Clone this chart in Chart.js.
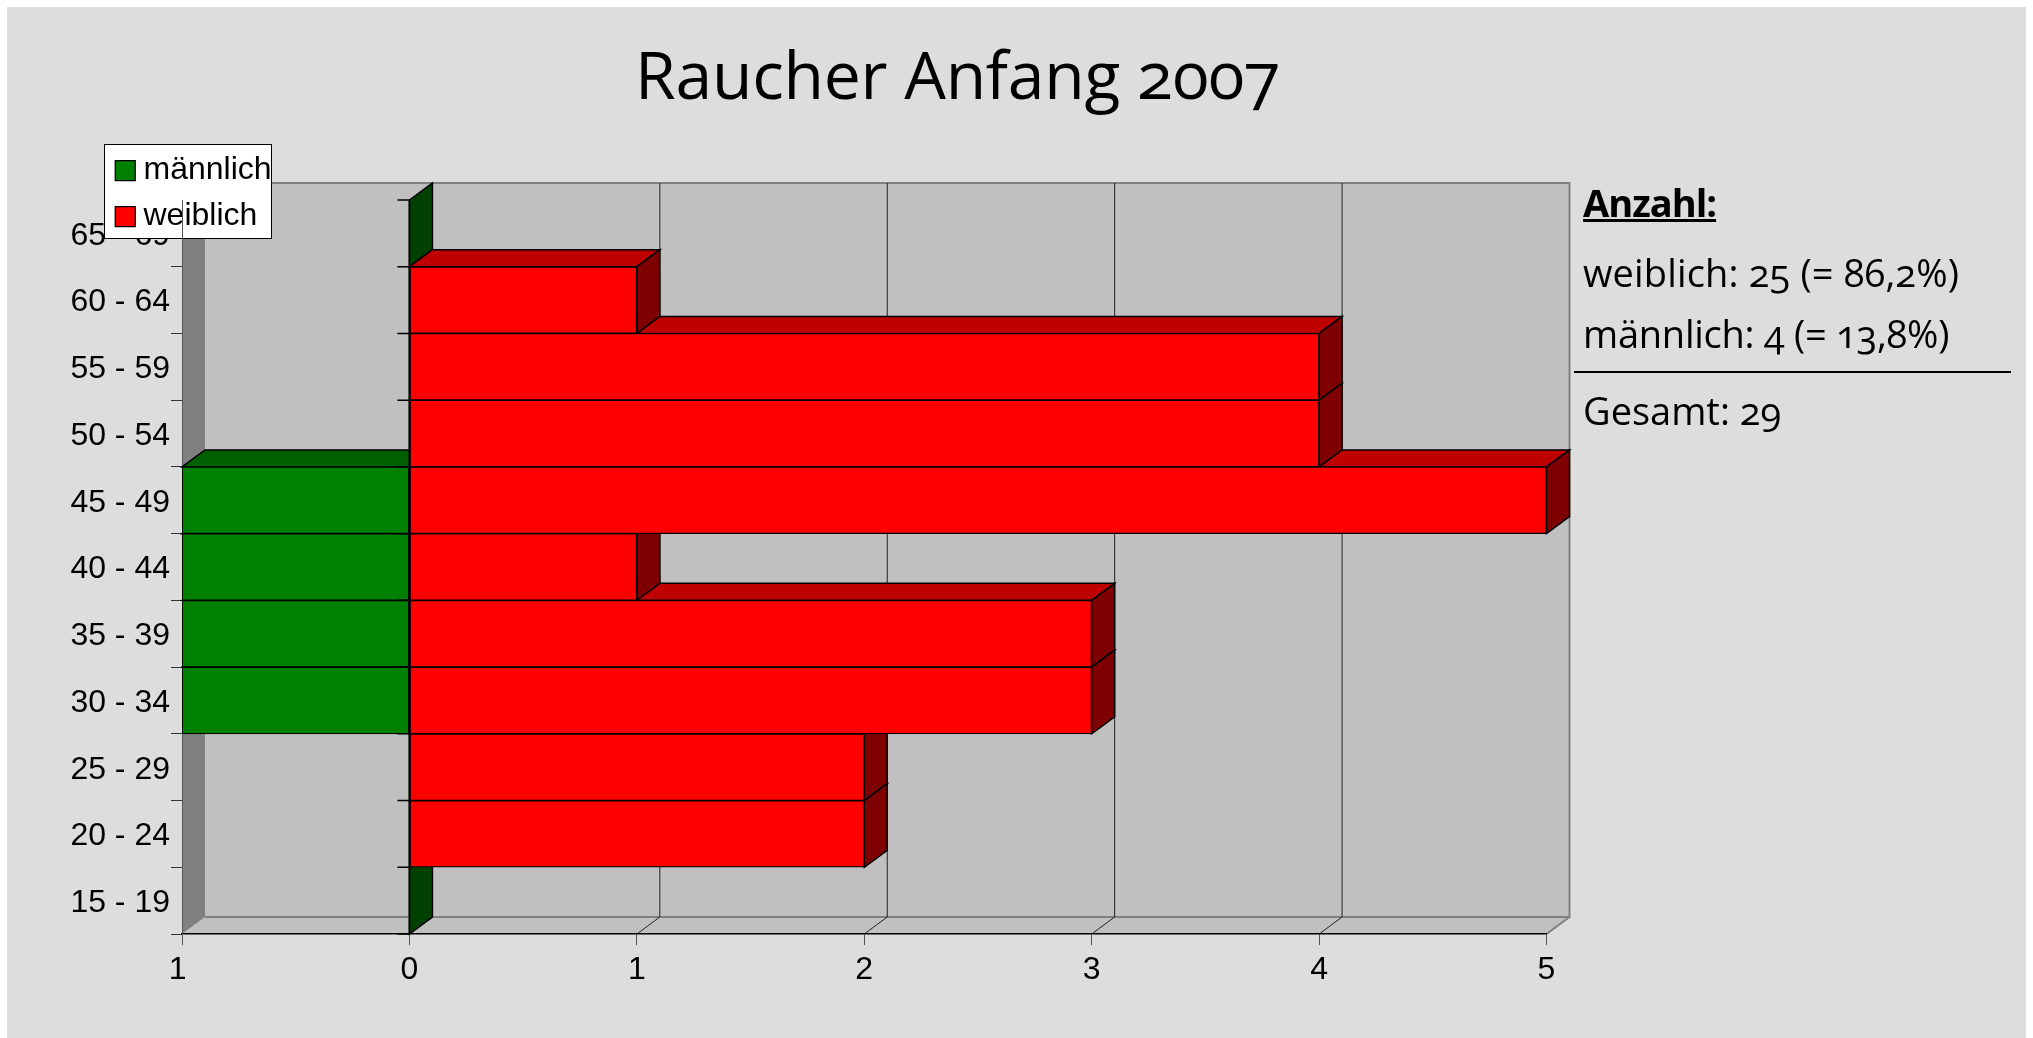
<!DOCTYPE html>
<html>
<head>
<meta charset="utf-8">
<title>Raucher Anfang 2007</title>
<script src="https://cdn.jsdelivr.net/npm/chart.js@4"></script>
<style>
html, body { margin: 0; height: 100%; background: #fff; overflow: hidden; }
#panel { position: absolute; left: 7px; top: 7px; width: 2019px; bottom: 0; background: #dddddd; }
#wrap { position: absolute; left: 0; top: 0; width: 2033px; height: 1038px; }
.txt { position: absolute; white-space: nowrap; color: #000; font-family: "Open Sans"; font-variant-numeric: oldstyle-nums; font-feature-settings: "onum" 1; line-height: 1; }
#mainTitle { left: 635px; top: 40px; font-size: 66px; letter-spacing: -0.25px; }
#a1 { left: 1583px; top: 183px; font-size: 38px; font-weight: 700; letter-spacing: -1px; text-decoration: underline; }
#a2 { left: 1583px; top: 253px; font-size: 38px; letter-spacing: 0.15px; }
#a3 { left: 1583px; top: 314px; font-size: 38px; letter-spacing: -0.25px; }
#rule { position: absolute; left: 1574px; top: 371px; width: 437px; height: 2px; background: #000; }
#a4 { left: 1583px; top: 391px; font-size: 38px; }
</style>
</head>
<body>
<div id="panel"></div>
<div id="wrap"><canvas id="c" width="2033" height="1038"></canvas></div>
<div class="txt" id="mainTitle">Raucher Anfang 2007</div>
<div class="txt" id="a1">Anzahl:</div>
<div class="txt" id="a2">weiblich: 25 (= 86,2%)</div>
<div class="txt" id="a3">männlich: 4 (= 13,8%)</div>
<div id="rule"></div>
<div class="txt" id="a4">Gesamt: 29</div>
<script>
const categories = ['65 - 69', '60 - 64', '55 - 59', '50 - 54', '45 - 49', '40 - 44', '35 - 39', '30 - 34', '25 - 29', '20 - 24', '15 - 19'];
const maennlich = [0, 0, 0, 0, -1, -1, -1, -1, 0, 0, 0];
const weiblich = [0, 1, 4, 4, 5, 1, 3, 3, 2, 2, 0];

const DX = 23, DY = 17;

function poly(ctx, pts, fill, stroke) {
    ctx.beginPath();
    pts.forEach((p, i) => i ? ctx.lineTo(p[0], p[1]) : ctx.moveTo(p[0], p[1]));
    ctx.closePath();
    ctx.fillStyle = fill;
    ctx.fill();
    if (stroke) {
        ctx.strokeStyle = stroke;
        ctx.lineWidth = 1.5;
        ctx.stroke();
    }
}

function catEdges(y, i) {
    const h = y.getPixelForTick(1) - y.getPixelForTick(0);
    const top = y.getPixelForValue(i) - h / 2;
    return [top, top + h];
}

const wallsPlugin = {
    id: 'walls',
    // back wall, side wall and floor, behind everything else
    beforeDraw(chart) {
        const { ctx, chartArea: a, scales: { x } } = chart;
        ctx.save();
        poly(ctx, [[a.left + DX, a.top - DY], [a.right + DX, a.top - DY], [a.right + DX, a.bottom - DY], [a.left + DX, a.bottom - DY]], '#c0c0c0');
        poly(ctx, [[a.left, a.bottom], [a.left + DX, a.bottom - DY], [a.right + DX, a.bottom - DY], [a.right, a.bottom]], '#c0c0c0');
        poly(ctx, [[a.left, a.top], [a.left + DX, a.top - DY], [a.left + DX, a.bottom - DY], [a.left, a.bottom]], '#808080');
        ctx.strokeStyle = '#808080';
        ctx.lineWidth = 2;
        ctx.beginPath();
        ctx.moveTo(a.left + DX, a.top - DY);
        ctx.lineTo(a.right + DX, a.top - DY);
        ctx.lineTo(a.right + DX, a.bottom - DY);
        ctx.lineTo(a.left + DX, a.bottom - DY);
        ctx.moveTo(a.right + DX, a.bottom - DY);
        ctx.lineTo(a.right, a.bottom);
        ctx.stroke();
        // grid lines on the wall and floor
        ctx.strokeStyle = '#222';
        ctx.lineWidth = 1;
        ctx.beginPath();
        for (let v = 1; v < 5; v++) {
            const px = x.getPixelForValue(v);
            ctx.moveTo(px + DX, a.top - DY);
            ctx.lineTo(px + DX, a.bottom - DY);
            ctx.lineTo(px, a.bottom);
        }
        ctx.stroke();
        ctx.restore();
    },
    // 3D tops and sides of the bars, all tops first so the sides stay clean
    beforeDatasetsDraw(chart) {
        const { ctx, chartArea: a, scales: { x, y } } = chart;
        ctx.save();
        const series = [[maennlich, '#006000', '#004000', true], [weiblich, '#bf0000', '#7f0000', false]];
        series.forEach(([vals, top, side, keepZero]) => {
            vals.forEach((v, i) => {
                if (v === 0) return;
                const [y0] = catEdges(y, i);
                const x0 = x.getPixelForValue(Math.min(v, 0));
                const x1 = x.getPixelForValue(Math.max(v, 0));
                poly(ctx, [[x0, y0], [x0 + DX, y0 - DY], [x1 + DX, y0 - DY], [x1, y0]], top, '#000');
            });
            vals.forEach((v, i) => {
                if (v === 0 && !keepZero) return;
                const [y0, y1] = catEdges(y, i);
                const x1 = x.getPixelForValue(Math.max(v, 0));
                poly(ctx, [[x1, y0], [x1 + DX, y0 - DY], [x1 + DX, y1 - DY], [x1, y1]], side, '#000');
            });
        });
        const zero = x.getPixelForValue(0);
        ctx.strokeStyle = '#000';
        ctx.lineWidth = 1.5;
        ctx.beginPath();
        ctx.moveTo(zero, a.top);
        ctx.lineTo(zero, a.bottom);
        ctx.stroke();
        ctx.restore();
    },
    // tick marks on the zero axis
    afterDatasetsDraw(chart) {
        const { ctx, chartArea: a, scales: { x, y } } = chart;
        const zero = x.getPixelForValue(0);
        ctx.save();
        ctx.strokeStyle = '#000';
        ctx.lineWidth = 1.5;
        ctx.beginPath();
        categories.forEach((c, i) => {
            const [py] = catEdges(y, i);
            ctx.moveTo(zero - 12, py);
            ctx.lineTo(zero, py);
        });
        ctx.moveTo(zero - 12, a.bottom);
        ctx.lineTo(zero, a.bottom);
        ctx.stroke();
        ctx.restore();
    },
    // legend sits over the top left corner of the plot, on a white box
    afterLayout(chart) {
        const l = chart.legend;
        const w = l.width, h = l.height;
        l.left = 109; l.top = 140.5; l.right = l.left + w; l.bottom = l.top + h;
        l.adjustHitBoxes();
        if (l.boxWrapped) return;
        l.boxWrapped = true;
        const draw = l.draw;
        l.draw = function () {
            const ctx = this.ctx;
            ctx.save();
            ctx.fillStyle = '#fff';
            ctx.strokeStyle = '#000';
            ctx.lineWidth = 1;
            ctx.fillRect(104.5, 144.5, 167, 94);
            ctx.strokeRect(104.5, 144.5, 167, 94);
            ctx.restore();
            draw.call(this);
        };
    }
};

Chart.defaults.font.family = '"Liberation Sans"';
Chart.defaults.color = '#000';

new Chart(document.getElementById('c'), {
    type: 'bar',
    data: {
        labels: categories,
        datasets: [
            { label: 'männlich', data: maennlich, backgroundColor: '#008000', borderColor: '#000', borderWidth: 1.25, borderSkipped: false, barPercentage: 1, categoryPercentage: 1 },
            { label: 'weiblich', data: weiblich, backgroundColor: '#ff0000', borderColor: '#000', borderWidth: 1.25, borderSkipped: false, barPercentage: 1, categoryPercentage: 1 }
        ]
    },
    plugins: [wallsPlugin],
    options: {
        indexAxis: 'y',
        responsive: false,
        animation: false,
        layout: { padding: { top: 200, right: 486.5, bottom: 0, left: 0 } },
        plugins: {
            tooltip: { enabled: false },
            legend: {
                position: 'chartArea',
                align: 'start',
                labels: {
                    font: { size: 32 },
                    color: '#000',
                    usePointStyle: true,
                    pointStyle: 'rect',
                    boxWidth: 4.5,
                    boxHeight: 20,
                    padding: 14
                }
            }
        },
        scales: {
            x: {
                stacked: true,
                min: -1,
                max: 5,
                afterFit: s => { s.height = 104; },
                grid: { drawOnChartArea: false, tickLength: 11, tickColor: '#555', tickWidth: 1 },
                border: { color: '#000', width: 1.5 },
                ticks: { stepSize: 1, maxRotation: 0, padding: 6, font: { size: 32 }, callback: v => (v < 0 ? Math.abs(v) + '\u00a0' : v) }
            },
            y: {
                stacked: true,
                afterFit: s => { s.width = 182; },
                grid: { drawOnChartArea: false, tickLength: 11, tickColor: '#333', tickWidth: 1 },
                border: { color: '#555', width: 1 },
                ticks: { z: -1, padding: 1, labelOffset: 2.5, font: { size: 32 }, autoSkip: false }
            }
        }
    }
});
</script>
</body>
</html>
